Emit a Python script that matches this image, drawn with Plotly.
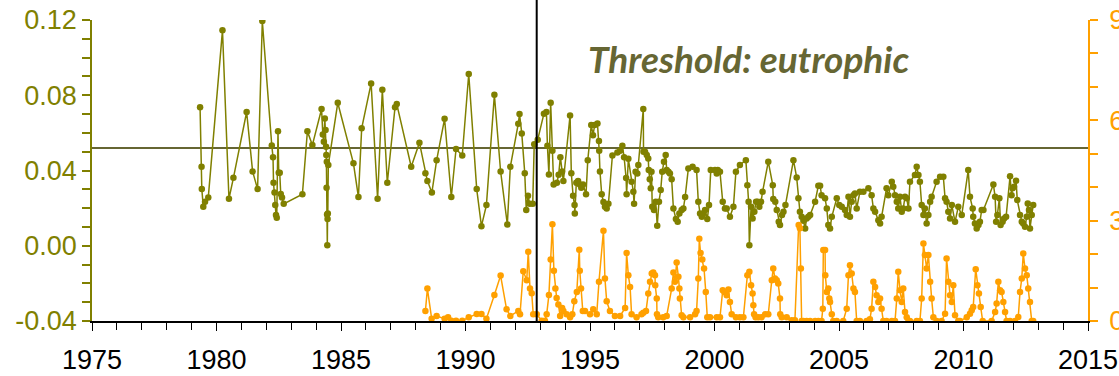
import plotly.graph_objects as go

# Olive series (left axis)
olive_year = [
    1979.34, 1979.40, 1979.41, 1979.47, 1979.54, 1979.67, 1980.24, 1980.50, 1980.68, 1981.21,
    1981.45, 1981.65, 1981.84, 1982.22, 1982.27, 1982.29, 1982.33, 1982.36, 1982.39, 1982.42,
    1982.47, 1982.50, 1982.54, 1982.58, 1982.63, 1982.70, 1983.45, 1983.65, 1983.85, 1984.22,
    1984.27, 1984.31, 1984.35, 1984.38, 1984.40, 1984.41, 1984.42, 1984.43, 1984.44, 1984.45,
    1984.46, 1984.47, 1984.49, 1984.87, 1985.50, 1985.70, 1985.83, 1986.21, 1986.47, 1986.66,
    1986.86, 1987.17, 1987.24, 1987.82, 1988.15, 1988.39, 1988.47, 1988.65, 1988.84, 1989.16,
    1989.43, 1989.62, 1989.87, 1990.13, 1990.45, 1990.64, 1990.84, 1991.16, 1991.41, 1991.68,
    1991.80, 1992.12, 1992.17, 1992.26, 1992.38, 1992.44, 1992.51, 1992.58, 1992.70, 1992.76,
    1992.90, 1993.15, 1993.25, 1993.29, 1993.35, 1993.42, 1993.49, 1993.54, 1993.67, 1993.74,
    1993.81, 1993.88, 1993.93, 1994.20, 1994.25, 1994.32, 1994.38, 1994.39, 1994.45, 1994.52,
    1994.59, 1994.65, 1994.72, 1994.84, 1994.91, 1995.05, 1995.12, 1995.19, 1995.30, 1995.36,
    1995.37, 1995.40, 1995.47, 1995.54, 1995.60, 1995.67, 1995.74, 1995.90, 1996.10, 1996.21,
    1996.30, 1996.37, 1996.45, 1996.47, 1996.54, 1996.67, 1996.74, 1996.77, 1996.83, 1996.90,
    1996.94, 1997.14, 1997.15, 1997.21, 1997.28, 1997.34, 1997.36, 1997.40, 1997.44, 1997.47,
    1997.50, 1997.57, 1997.64, 1997.70, 1997.77, 1997.84, 1997.90, 1997.97, 1998.04, 1998.08,
    1998.15, 1998.21, 1998.28, 1998.35, 1998.45, 1998.52, 1998.59, 1998.68, 1998.75, 1998.82,
    1998.95, 1999.12, 1999.28, 1999.35, 1999.42, 1999.49, 1999.55, 1999.62, 1999.71, 1999.78,
    1999.85, 2000.02, 2000.09, 2000.13, 2000.22, 2000.33, 2000.42, 2000.49, 2000.62, 2000.76,
    2000.86, 2001.02, 2001.26, 2001.32, 2001.37, 2001.40, 2001.47, 2001.53, 2001.60, 2001.67,
    2001.73, 2001.80, 2001.87, 2001.93, 2002.16, 2002.34, 2002.36, 2002.44, 2002.50, 2002.58,
    2002.63, 2002.71, 2002.77, 2002.85, 2003.17, 2003.30, 2003.37, 2003.43, 2003.50, 2003.57,
    2003.64, 2003.70, 2003.77, 2003.84, 2004.04, 2004.17, 2004.24, 2004.30, 2004.44, 2004.51,
    2004.57, 2004.64, 2004.71, 2004.91, 2005.01, 2005.11, 2005.24, 2005.31, 2005.38, 2005.44,
    2005.51, 2005.58, 2005.64, 2005.71, 2005.84, 2005.98, 2006.18, 2006.31, 2006.38, 2006.45,
    2006.58, 2006.65, 2006.71, 2006.91, 2006.98, 2007.12, 2007.18, 2007.25, 2007.32, 2007.38,
    2007.45, 2007.52, 2007.58, 2007.65, 2007.72, 2007.79, 2007.85, 2008.05, 2008.12, 2008.19,
    2008.25, 2008.32, 2008.39, 2008.45, 2008.52, 2008.59, 2008.66, 2008.72, 2008.92, 2009.06,
    2009.19, 2009.26, 2009.32, 2009.39, 2009.46, 2009.53, 2009.66, 2009.79, 2009.93, 2010.19,
    2010.26, 2010.37, 2010.39, 2010.46, 2010.53, 2010.60, 2010.66, 2010.73, 2010.80, 2011.20,
    2011.27, 2011.31, 2011.36, 2011.44, 2011.49, 2011.57, 2011.63, 2011.71, 2011.87, 2011.93,
    2011.97, 2012.03, 2012.11, 2012.16, 2012.27, 2012.34, 2012.40, 2012.47, 2012.54, 2012.58,
    2012.63, 2012.67, 2012.74, 2012.80,
]
olive_val = [
    0.0736, 0.0420, 0.0301, 0.0207, 0.0234, 0.0257, 0.1145, 0.0250, 0.0361, 0.0711,
    0.0395, 0.0301, 0.1195, 0.0533, 0.0471, 0.0335, 0.0283, 0.0216, 0.0163, 0.0149,
    0.0608, 0.0388, 0.0388, 0.0275, 0.0257, 0.0223, 0.0274, 0.0608, 0.0535, 0.0727,
    0.0592, 0.0553, 0.0677, 0.0615, 0.0526, 0.0482, 0.0308, 0.0447, 0.0166, 0.0003,
    0.0142, 0.0172, 0.0429, 0.0760, 0.0438, 0.0259, 0.0624, 0.0863, 0.0250, 0.0829,
    0.0335, 0.0736, 0.0753, 0.0420, 0.0548, 0.0386, 0.0344, 0.0283, 0.0454, 0.0675,
    0.0259, 0.0514, 0.0480, 0.0913, 0.0301, 0.0104, 0.0216, 0.0803, 0.0395, 0.0113,
    0.0420, 0.0649, 0.0700, 0.0597, 0.0386, 0.0190, 0.0266, 0.0223, 0.0223, 0.0539,
    0.0564, 0.0702, 0.0711, 0.0532, 0.0379, 0.0760, 0.0505, 0.0326, 0.0335, 0.0377,
    0.0471, 0.0395, 0.0344, 0.0693, 0.0386, 0.0266, 0.0216, 0.0172, 0.0335, 0.0344,
    0.0326, 0.0308, 0.0326, 0.0274, 0.0454, 0.0642, 0.0588, 0.0642, 0.0650, 0.0557,
    0.0505, 0.0395, 0.0274, 0.0232, 0.0207, 0.0198, 0.0223, 0.0480, 0.0496, 0.0505,
    0.0532, 0.0471, 0.0360, 0.0274, 0.0462, 0.0340, 0.0287, 0.0223, 0.0393, 0.0384,
    0.0429, 0.0727, 0.0500, 0.0500, 0.0482, 0.0464, 0.0402, 0.0354, 0.0305, 0.0393,
    0.0207, 0.0190, 0.0234, 0.0106, 0.0234, 0.0296, 0.0393, 0.0447, 0.0482, 0.0402,
    0.0393, 0.0384, 0.0353, 0.0198, 0.0142, 0.0127, 0.0172, 0.0190, 0.0198, 0.0259,
    0.0411, 0.0420, 0.0402, 0.0234, 0.0172, 0.0154, 0.0172, 0.0190, 0.0142, 0.0216,
    0.0402, 0.0402, 0.0384, 0.0402, 0.0393, 0.0234, 0.0198, 0.0198, 0.0154, 0.0207,
    0.0393, 0.0429, 0.0455, 0.0322, 0.0234, 0.0003, 0.0207, 0.0145, 0.0181, 0.0234,
    0.0234, 0.0207, 0.0234, 0.0287, 0.0447, 0.0322, 0.0248, 0.0234, 0.0190, 0.0127,
    0.0110, 0.0163, 0.0181, 0.0216, 0.0455, 0.0363, 0.0252, 0.0181, 0.0154, 0.0133,
    0.0092, 0.0145, 0.0154, 0.0163, 0.0234, 0.0319, 0.0319, 0.0269, 0.0252, 0.0198,
    0.0110, 0.0092, 0.0154, 0.0252, 0.0216, 0.0207, 0.0190, 0.0163, 0.0260, 0.0154,
    0.0234, 0.0269, 0.0278, 0.0198, 0.0287, 0.0287, 0.0305, 0.0269, 0.0198, 0.0181,
    0.0136, 0.0118, 0.0154, 0.0305, 0.0269, 0.0340, 0.0314, 0.0269, 0.0234, 0.0198,
    0.0260, 0.0181, 0.0198, 0.0260, 0.0252, 0.0198, 0.0340, 0.0376, 0.0420, 0.0376,
    0.0340, 0.0216, 0.0163, 0.0198, 0.0118, 0.0163, 0.0234, 0.0260, 0.0340, 0.0367,
    0.0367, 0.0252, 0.0234, 0.0181, 0.0145, 0.0216, 0.0127, 0.0207, 0.0163, 0.0402,
    0.0260, 0.0198, 0.0154, 0.0118, 0.0092, 0.0110, 0.0127, 0.0190, 0.0190, 0.0326,
    0.0260, 0.0127, 0.0163, 0.0252, 0.0110, 0.0127, 0.0145, 0.0154, 0.0369, 0.0269,
    0.0305, 0.0314, 0.0346, 0.0243, 0.0163, 0.0127, 0.0118, 0.0101, 0.0154, 0.0225,
    0.0190, 0.0092, 0.0163, 0.0216,
]

# Orange series (right axis)
orange_year = [
    1988.39, 1988.47, 1988.64, 1988.84, 1989.16, 1989.30, 1989.43, 1989.62, 1989.87, 1990.13,
    1990.45, 1990.64, 1990.84, 1991.16, 1991.41, 1991.65, 1991.80, 1992.12, 1992.19, 1992.32,
    1992.46, 1992.52, 1992.59, 1992.66, 1992.72, 1992.86, 1993.06, 1993.19, 1993.26, 1993.35,
    1993.42, 1993.49, 1993.55, 1993.61, 1993.66, 1993.73, 1993.80, 1993.88, 1993.93, 1994.06,
    1994.20, 1994.29, 1994.37, 1994.47, 1994.57, 1994.59, 1994.64, 1994.71, 1994.80, 1995.00,
    1995.13, 1995.27, 1995.36, 1995.54, 1995.60, 1995.67, 1995.80, 1996.00, 1996.21, 1996.41,
    1996.47, 1996.54, 1996.61, 1996.67, 1996.87, 1997.07, 1997.14, 1997.25, 1997.34, 1997.41,
    1997.48, 1997.54, 1997.61, 1997.62, 1997.68, 1997.69, 1997.74, 1997.94, 1998.08, 1998.28,
    1998.35, 1998.41, 1998.48, 1998.55, 1998.59, 1998.61, 1998.68, 1998.75, 1999.02, 1999.22,
    1999.28, 1999.35, 1999.39, 1999.44, 1999.51, 1999.58, 1999.65, 1999.71, 1999.82, 2000.09,
    2000.22, 2000.33, 2000.40, 2000.49, 2000.56, 2000.62, 2000.69, 2000.86, 2001.02, 2001.16,
    2001.32, 2001.40, 2001.47, 2001.53, 2001.56, 2001.59, 2001.65, 2001.76, 2001.89, 2002.03,
    2002.16, 2002.30, 2002.36, 2002.43, 2002.50, 2002.56, 2002.63, 2002.64, 2002.70, 2002.90,
    2003.10, 2003.23, 2003.38, 2003.43, 2003.47, 2003.50, 2003.57, 2003.70, 2003.84, 2004.04,
    2004.17, 2004.30, 2004.35, 2004.37, 2004.44, 2004.45, 2004.51, 2004.57, 2004.61, 2004.64,
    2004.71, 2004.77, 2004.91, 2005.17, 2005.31, 2005.38, 2005.44, 2005.51, 2005.58, 2005.64,
    2005.71, 2005.84, 2006.11, 2006.24, 2006.31, 2006.38, 2006.45, 2006.51, 2006.58, 2006.65,
    2006.71, 2006.78, 2006.91, 2007.12, 2007.25, 2007.32, 2007.38, 2007.45, 2007.52, 2007.58,
    2007.65, 2007.72, 2007.79, 2007.85, 2008.12, 2008.25, 2008.32, 2008.39, 2008.45, 2008.52,
    2008.59, 2008.66, 2008.72, 2008.79, 2008.92, 2009.12, 2009.26, 2009.32, 2009.39, 2009.46,
    2009.53, 2009.59, 2009.66, 2009.79, 2009.86, 2010.13, 2010.26, 2010.33, 2010.39, 2010.49,
    2010.56, 2010.62, 2010.69, 2010.77, 2011.13, 2011.27, 2011.33, 2011.40, 2011.47, 2011.53,
    2011.60, 2011.67, 2011.73, 2011.87, 2012.07, 2012.20, 2012.27, 2012.34, 2012.40, 2012.47,
    2012.54, 2012.60, 2012.67, 2012.74, 2012.80,
]
orange_val = [
    0.30, 0.97, 0.07, 0.15, 0.07, 0.11, 0.01, 0.01, 0.01, 0.11,
    0.21, 0.21, 0.07, 0.78, 1.36, 0.35, 0.15, 0.30, 0.20, 1.49,
    1.22, 2.07, 0.97, 0.83, 0.20, 0.20, 0.01, 0.01, 0.20, 0.78,
    1.84, 2.89, 1.50, 0.97, 0.69, 0.49, 0.15, 0.39, 0.30, 0.20,
    0.11, 0.20, 0.59, 0.87, 2.13, 1.50, 0.97, 0.30, 0.30, 0.20,
    0.35, 0.20, 1.17, 2.70, 1.27, 0.59, 0.30, 0.15, 0.15, 0.39,
    2.03, 1.37, 1.02, 0.20, 0.11, 0.20, 0.25, 0.30, 0.82, 1.17,
    1.42, 1.45, 1.37, 1.07, 0.67, 0.20, 0.11, 0.11, 0.15, 0.97,
    1.45, 1.17, 1.75, 1.32, 0.97, 0.67, 0.17, 0.11, 0.11, 0.20,
    0.30, 1.27, 2.46, 2.03, 1.84, 1.57, 0.87, 0.11, 0.11, 0.11,
    0.11, 0.92, 0.87, 0.77, 0.94, 0.57, 0.20, 0.11, 0.11, 0.11,
    1.37, 1.47, 1.07, 0.82, 0.47, 0.20, 0.11, 0.11, 0.11, 0.20,
    0.20, 1.22, 1.57, 1.27, 1.22, 1.12, 0.67, 0.20, 0.11, 0.11,
    0.02, 0.02, 2.87, 2.77, 1.57, 0.0, 0.0, 0.0, 0.0, 0.0,
    0.0, 0.0, 0.37, 2.12, 2.12, 1.37, 0.87, 0.97, 0.67, 0.57,
    0.20, 0.0, 0.0, 0.0, 0.37, 1.37, 1.67, 1.42, 0.97, 0.87,
    0.0, 0.0, 0.0, 0.05, 0.37, 1.17, 1.02, 0.77, 0.57, 0.67,
    0.37, 0.0, 0.0, 0.0, 0.0, 0.67, 1.47, 0.92, 0.57, 0.97,
    0.27, 0.11, 0.0, 0.0, 0.0, 0.0, 0.67, 2.32, 1.97, 1.57,
    1.97, 1.17, 0.67, 0.11, 0.0, 0.0, 0.22, 1.87, 1.17, 0.77,
    0.57, 1.07, 0.17, 0.0, 0.0, 0.11, 0.22, 0.32, 0.42, 1.55,
    1.07, 0.82, 0.42, 0.0, 0.0, 0.27, 0.52, 1.17, 0.92, 0.87,
    0.57, 0.27, 0.0, 0.0, 0.0, 0.12, 0.87, 1.27, 2.02, 1.57,
    1.37, 0.97, 0.57, 0.0, 0.0,
]

threshold_value = 0.052
divider_year = 1992.86
annotation_text = "Threshold: eutrophic"

x_ticks = [1975, 1980, 1985, 1990, 1995, 2000, 2005, 2010, 2015]
y_ticks = [-0.04, 0.00, 0.04, 0.08, 0.12]
y2_ticks = [0, 3, 6, 9]

OLIVE = "#808000"
ORANGE = "#FFA000"
DARK_OLIVE = "#666633"
FONT = "Liberation Sans, Arial, sans-serif"
TICK_SIZE = 27

fig = go.Figure()
fig.add_trace(go.Scatter(
    x=olive_year, y=olive_val, mode="lines+markers",
    line=dict(color=OLIVE, width=1.5),
    marker=dict(color=OLIVE, size=6.5),
    yaxis="y", showlegend=False,
))
fig.add_trace(go.Scatter(
    x=orange_year, y=orange_val, mode="lines+markers",
    line=dict(color=ORANGE, width=1.5),
    marker=dict(color=ORANGE, size=6.5),
    yaxis="y2", showlegend=False,
))

fig.add_shape(type="line", xref="paper", x0=0, x1=1, yref="y",
              y0=threshold_value, y1=threshold_value,
              line=dict(color=DARK_OLIVE, width=2), layer="below")
fig.add_shape(type="line", xref="x", x0=divider_year, x1=divider_year,
              yref="paper", y0=0, y1=1.1,
              line=dict(color="black", width=2))

fig.add_annotation(
    x=2001.35, y=0.0995, xref="x", yref="y", text=annotation_text,
    showarrow=False,
    font=dict(family="Lato, Open Sans, sans-serif", size=37, color=DARK_OLIVE,
              weight="bold", style="italic"),
)

fig.update_layout(
    width=1119, height=376,
    margin=dict(l=92, r=31, t=20, b=55),
    paper_bgcolor="white", plot_bgcolor="white",
    font=dict(family=FONT, size=TICK_SIZE),
    xaxis=dict(
        range=[1975, 2015], tickvals=x_ticks, ticktext=[str(t) for t in x_ticks],
        automargin=False,
        showgrid=False, zeroline=False, showline=True, linecolor="black", linewidth=1.5,
        ticks="outside", ticklen=8, tickwidth=1, tickcolor="black",
        tickfont=dict(color="black", size=TICK_SIZE, family=FONT),
        minor=dict(dtick=1, ticks="outside", ticklen=7, tickcolor="black", tickwidth=1),
        ticklabelstandoff=6,
    ),
    yaxis=dict(
        range=[-0.04, 0.12], tickvals=y_ticks, ticktext=["%.2f" % v for v in y_ticks],
        automargin=False,
        showgrid=False, zeroline=False, showline=True, linecolor=OLIVE, linewidth=1.5,
        ticks="outside", ticklen=8, tickwidth=1.5, tickcolor=OLIVE,
        tickfont=dict(color=OLIVE, size=TICK_SIZE, family=FONT),
        minor=dict(dtick=0.01, tick0=0, ticks="outside", ticklen=8, tickcolor=OLIVE, tickwidth=1.5),
    ),
    yaxis2=dict(
        range=[0, 9], tickvals=y2_ticks, ticktext=[str(v) for v in y2_ticks],
        automargin=False,
        overlaying="y", side="right",
        showgrid=False, zeroline=False, showline=True, linecolor=ORANGE, linewidth=1.5,
        ticks="outside", ticklen=8, tickwidth=1.5, tickcolor=ORANGE,
        tickfont=dict(color=ORANGE, size=TICK_SIZE, family=FONT),
        minor=dict(dtick=1, tick0=0, ticks="outside", ticklen=8, tickcolor=ORANGE, tickwidth=1.5),
        ticklabelstandoff=6,
    ),
)

fig.write_html("out.html")
